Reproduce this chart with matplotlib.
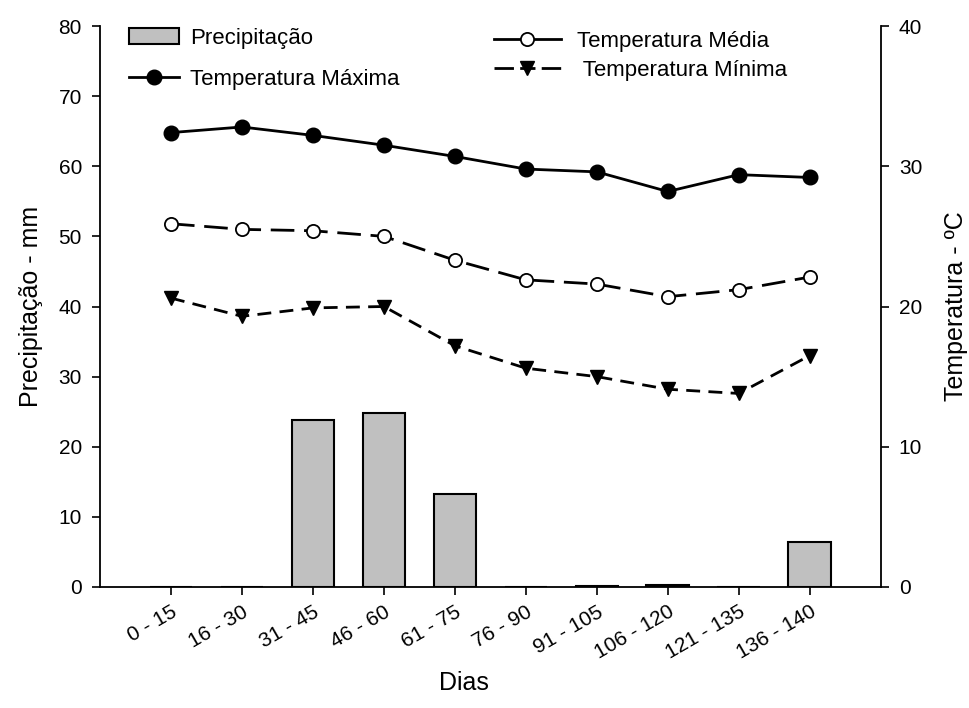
import numpy as np
import matplotlib
matplotlib.use("Agg")
import matplotlib.pyplot as plt
from matplotlib.lines import Line2D

plt.rcParams['font.family'] = ['Liberation Sans', 'DejaVu Sans']
plt.rcParams['lines.scale_dashes'] = False

# --- data ---
periodos = ['0 - 15', '16 - 30', '31 - 45', '46 - 60', '61 - 75', '76 - 90',
            '91 - 105', '106 - 120', '121 - 135', '136 - 140']
precipitacao = [0, 0, 23.8, 24.8, 13.3, 0, 0.2, 0.3, 0, 6.4]
temp_max = [32.4, 32.8, 32.2, 31.5, 30.7, 29.8, 29.6, 28.2, 29.4, 29.2]
temp_med = [25.9, 25.5, 25.4, 25.0, 23.3, 21.9, 21.6, 20.7, 21.2, 22.1]
temp_min = [20.6, 19.3, 19.9, 20.0, 17.2, 15.6, 15.0, 14.1, 13.8, 16.5]

x = np.arange(len(periodos))

fig = plt.figure(figsize=(9.7, 7.08), dpi=100)
ax = fig.add_axes([100 / 970, 1 - 587 / 708, 780.7 / 970, 561 / 708])
ax2 = ax.twinx()

# --- bars (left axis) ---
barras = ax.bar(x, precipitacao, width=0.6, color='#c0c0c0', edgecolor='black',
                linewidth=1.5, label='Precipitação', zorder=2)
ax.set_xlim(-1, len(periodos))
ax.set_ylim(0, 80)
ax.set_yticks(np.arange(0, 81, 10))
ax.set_xticks(x)
ax.set_xticklabels(periodos, rotation=30, ha='right', rotation_mode='anchor')

# --- lines (right axis) ---
l_max, = ax2.plot(x, temp_max, color='black', lw=2, marker='o', ms=10.5,
                  label='Temperatura Máxima')
ax2.plot(x, temp_med, color='black', lw=2, marker='o', ms=9.5,
         mfc='white', mec='black', mew=1.3, dashes=(17, 7))
ax2.plot(x, temp_min, color='black', lw=2, marker='v', ms=9.5, dashes=(10, 6))
ax2.set_ylim(0, 40)
ax2.set_yticks(np.arange(0, 41, 10))

# legend handles for the dashed series (dash pattern centred on the marker)
h_med = Line2D([], [], color='black', lw=2, marker='o', ms=9.5, mfc='white',
               mec='black', mew=1.3, linestyle='-', label='Temperatura Média')
h_min = Line2D([], [], color='black', lw=2, marker='v', ms=9.5,
               linestyle=(0, (14, 4.5, 11, 4.5, 14, 4.5)),
               label=' Temperatura Mínima')

# --- axes styling ---
for a in (ax, ax2):
    a.spines['top'].set_visible(False)
    for s in a.spines.values():
        s.set_linewidth(1.3)
    a.tick_params(labelsize=15, length=6, width=1.2, direction='out', pad=7)
ax.tick_params(axis='x', labelsize=15, pad=5)
ax.spines['right'].set_visible(False)
ax2.spines['left'].set_visible(False)
ax2.spines['bottom'].set_visible(False)

ax.set_xlabel('Dias', fontsize=18)
ax.xaxis.set_label_coords(0.466, -0.15)
ax.set_ylabel('Precipitação - mm', fontsize=18, labelpad=11)
ax2.set_ylabel('Temperatura - ºC', fontsize=18, labelpad=16)

# --- legends ---
leg1 = fig.legend(handles=[barras, l_max], loc='upper left',
                  bbox_to_anchor=(129 / 970, 1 - 28 / 708), frameon=False,
                  fontsize=16, handlelength=2.25, handleheight=0.75,
                  handletextpad=0.5, labelspacing=0.89, borderpad=0,
                  borderaxespad=0, numpoints=1)
leg2 = fig.legend(handles=[h_med, h_min], loc='upper left',
                  bbox_to_anchor=(494 / 970, 1 - 31 / 708), frameon=False,
                  fontsize=16, handlelength=3.0, handletextpad=0.75,
                  labelspacing=0.35, borderpad=0, borderaxespad=0, numpoints=1)

fig.savefig('out.png', dpi=100)
